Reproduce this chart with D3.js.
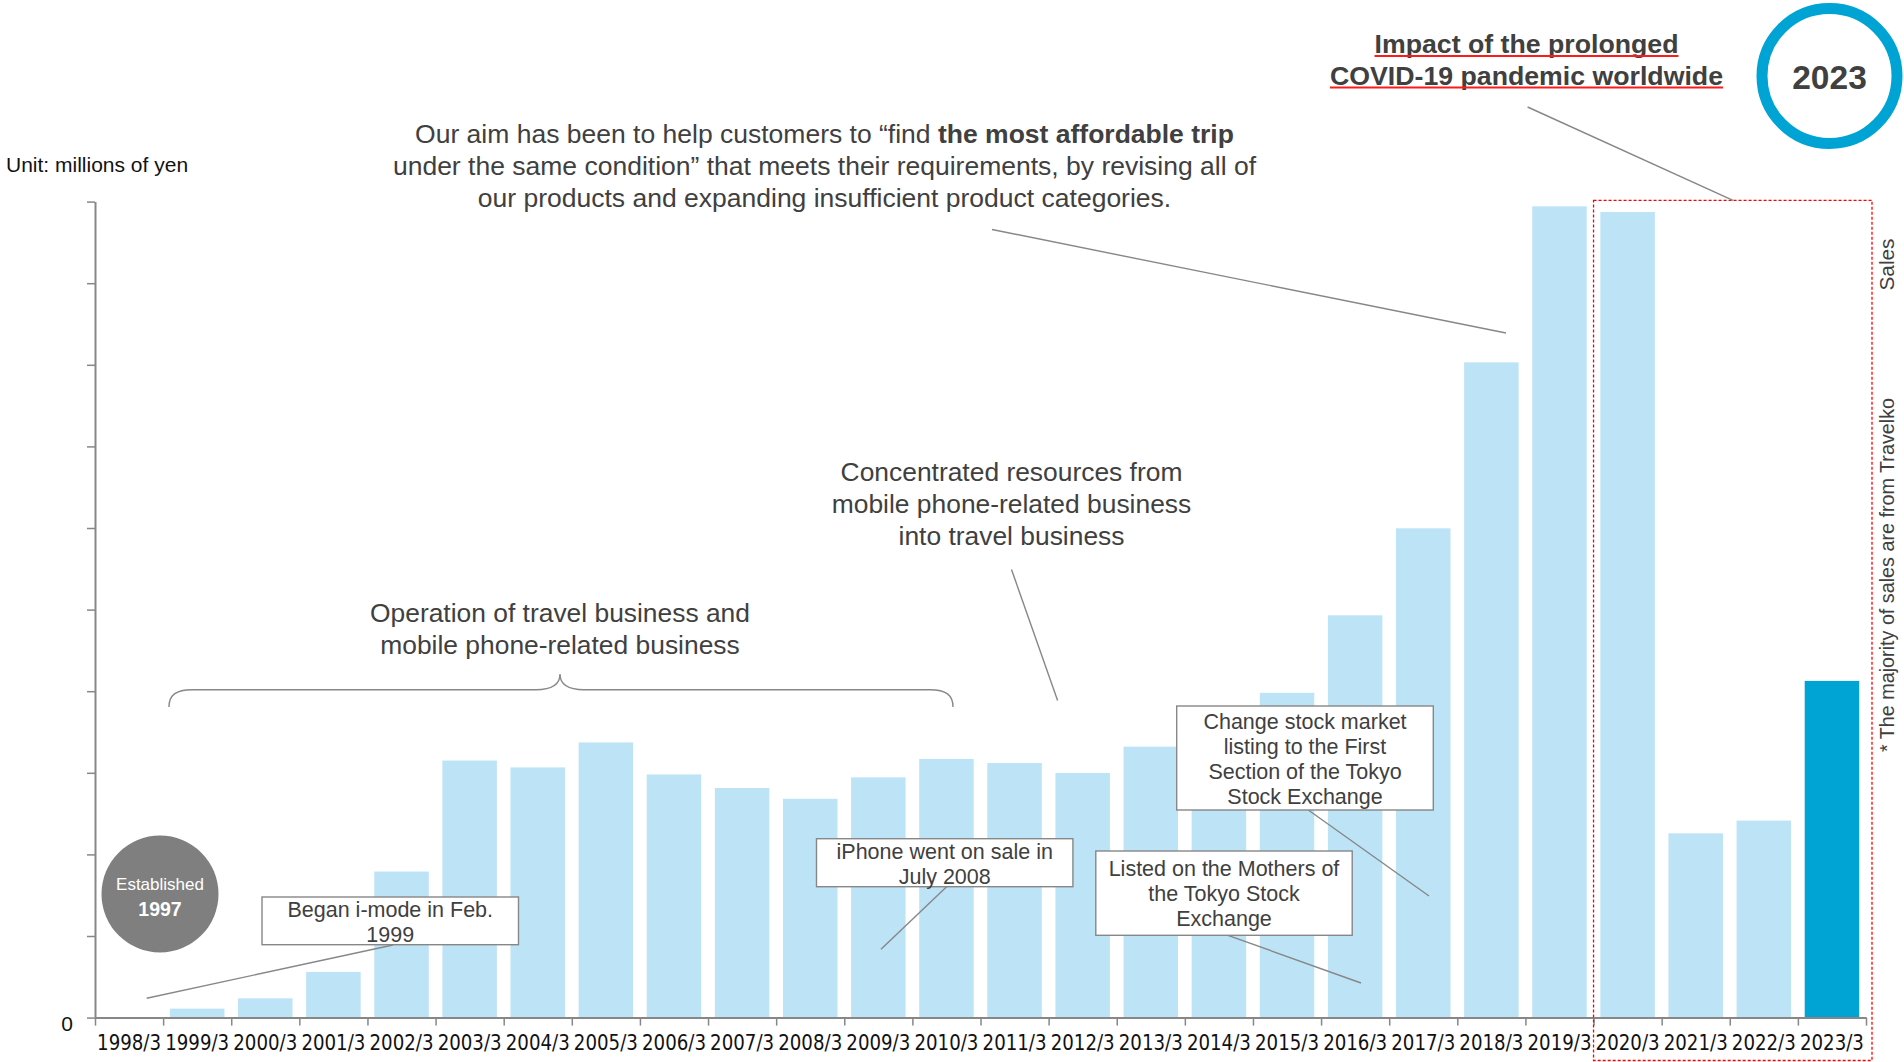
<!DOCTYPE html>
<html>
<head>
<meta charset="utf-8">
<script src="https://cdn.jsdelivr.net/npm/d3@7"></script>
<style>
  html, body { margin: 0; padding: 0; background: #ffffff; }
  svg { display: block; }
  text { font-family: "Liberation Sans", Arial, sans-serif; }
</style>
</head>
<body>
<svg id="chart" width="1904" height="1062"></svg>
<script>
// Fiscal years (ending March) and net sales, millions of yen
const categories = ["1998/3", "1999/3", "2000/3", "2001/3", "2002/3", "2003/3", "2004/3",
  "2005/3", "2006/3", "2007/3", "2008/3", "2009/3", "2010/3", "2011/3", "2012/3",
  "2013/3", "2014/3", "2015/3", "2016/3", "2017/3", "2018/3", "2019/3", "2020/3",
  "2021/3", "2022/3", "2023/3"];
const sales = [0, 55, 118, 280, 895, 1575, 1533, 1686, 1490, 1407, 1341, 1472, 1585,
  1560, 1499, 1660, 1800, 1990, 2465, 2998, 4015, 4971, 4936, 1129, 1207, 2063];
const yTicks = [0, 500, 1000, 1500, 2000, 2500, 3000, 3500, 4000, 4500, 5000];
const yTickLabels = ["0"];
const highlightYear = "2023/3";

const TEXT = "#404040";
const GREY = "#878787";
const BAR = "#bde3f7";
const BAR_HI = "#00a4d4";

const svg = d3.select("#chart");

const x = d3.scaleBand().domain(categories).range([95, 1866]).paddingInner(0.2).paddingOuter(0.1);
const y = d3.scaleLinear().domain([0, 5000]).range([1017.6, 201.6]);
// band boundaries (tick marks sit between the years)
const xb = d3.scaleLinear().domain([0, categories.length]).range([95, 1866]);

// ---- bars
svg.append("g").selectAll("rect").data(categories).join("rect")
  .attr("x", d => x(d))
  .attr("y", (d, i) => y(sales[i]))
  .attr("width", x.bandwidth())
  .attr("height", (d, i) => y(0) - y(sales[i]))
  .attr("fill", d => d === highlightYear ? BAR_HI : BAR);

// ---- y axis
const yAxis = svg.append("g").attr("transform", "translate(95,0)")
  .call(d3.axisLeft(y).tickValues(yTicks).tickSize(8).tickSizeOuter(0).tickPadding(14)
    .tickFormat(d => yTickLabels.includes(String(d)) ? String(d) : ""));
yAxis.select(".domain").attr("stroke", GREY).attr("stroke-width", 2);
yAxis.selectAll(".tick line").attr("stroke", GREY).attr("stroke-width", 1.5);
yAxis.selectAll(".tick text").attr("font-size", 21).attr("fill", "#111").attr("dy", "0.62em")
  .style("font-family", "'Liberation Sans', Arial, sans-serif");

// ---- x axis: boundary ticks
const xTickAxis = svg.append("g").attr("transform", `translate(0,${y(0)})`)
  .call(d3.axisBottom(xb).tickValues(d3.range(0, categories.length + 1)).tickSize(8).tickSizeOuter(0).tickFormat(""));
xTickAxis.select(".domain").attr("stroke", GREY).attr("stroke-width", 2);
xTickAxis.selectAll(".tick line").attr("stroke", GREY).attr("stroke-width", 1.5);

// ---- x axis: year labels centred on bars
const xLabelAxis = svg.append("g").attr("transform", `translate(0,${y(0)})`)
  .call(d3.axisBottom(x).tickSize(0).tickPadding(18));
xLabelAxis.select(".domain").remove();
xLabelAxis.selectAll(".tick text")
  .attr("font-size", 20.5).attr("fill", "#111")
  .style("font-family", "'DejaVu Sans Condensed', 'DejaVu Sans', sans-serif")
  .attr("textLength", 64).attr("lengthAdjust", "spacingAndGlyphs");

// ---- unit label
svg.append("text").attr("x", 6).attr("y", 172).attr("font-size", 21).attr("fill", "#111")
  .text("Unit: millions of yen");

// helpers
function lines(cx, ys, arr, size, opts = {}) {
  const t = svg.append("text").attr("text-anchor", "middle").attr("font-size", size)
    .attr("fill", opts.fill || TEXT).attr("font-weight", opts.weight || "normal");
  arr.forEach((s, i) => {
    t.append("tspan").attr("x", cx).attr("y", ys[i]).attr("dominant-baseline", "central").text(s);
  });
  return t;
}
function leader(x1, y1, x2, y2) {
  svg.append("line").attr("x1", x1).attr("y1", y1).attr("x2", x2).attr("y2", y2)
    .attr("stroke", GREY).attr("stroke-width", 1.4);
}
function callout(x0, y0, w, h, arr, lineYs) {
  svg.append("rect").attr("x", x0).attr("y", y0).attr("width", w).attr("height", h)
    .attr("fill", "#fff").attr("stroke", GREY).attr("stroke-width", 1.4);
  lines(x0 + w / 2, lineYs, arr, 21.5);
}

// ---- dashed frame around the pandemic years
svg.append("rect")
  .attr("x", xb(22)).attr("y", 200.3)
  .attr("width", 1872 - xb(22)).attr("height", 1060.5 - 200.3)
  .attr("fill", "none").attr("stroke", "#ff0000").attr("stroke-width", 1.3)
  .attr("stroke-dasharray", "3,2");

// ---- headline message
const aim = svg.append("text").attr("text-anchor", "middle").attr("font-size", 26.5).attr("fill", TEXT);
const l1 = aim.append("tspan").attr("x", 824.5).attr("y", 133.6).attr("dominant-baseline", "central");
l1.append("tspan").text("Our aim has been to help customers to \u201cfind ");
l1.append("tspan").attr("font-weight", "bold").text("the most affordable trip");
aim.append("tspan").attr("x", 824.5).attr("y", 166).attr("dominant-baseline", "central")
  .text("under the same condition\u201d that meets their requirements, by revising all of");
aim.append("tspan").attr("x", 824.5).attr("y", 198).attr("dominant-baseline", "central")
  .text("our products and expanding insufficient product categories.");
leader(992, 229.5, 1506, 333);

// ---- pandemic heading, underlined in red
const imp = lines(1526.5, [44, 76], ["Impact of the prolonged", "COVID-19 pandemic worldwide"], 26.7, { weight: "bold" });
imp.selectAll("tspan").each(function (d, i) {
  const w = this.getComputedTextLength();
  const yy = [56, 87.5][i];
  svg.append("line").attr("x1", 1526.5 - w / 2).attr("x2", 1526.5 + w / 2)
    .attr("y1", yy).attr("y2", yy).attr("stroke", "#ff1a1a").attr("stroke-width", 2);
});
leader(1527.6, 107, 1733, 200.3);

// ---- 2023 badge
svg.append("circle").attr("cx", 1829.5).attr("cy", 76).attr("r", 67.5)
  .attr("fill", "#fff").attr("stroke", BAR_HI).attr("stroke-width", 11);
svg.append("text").attr("x", 1829.5).attr("y", 77).attr("text-anchor", "middle")
  .attr("dominant-baseline", "central").attr("font-size", 33.5).attr("font-weight", "bold")
  .attr("fill", TEXT).text("2023");

// ---- side notes
svg.append("text").attr("transform", "translate(1887,264.5) rotate(-90)")
  .attr("text-anchor", "middle").attr("dominant-baseline", "central")
  .attr("font-size", 20).attr("fill", TEXT)
  .attr("textLength", 52).attr("lengthAdjust", "spacingAndGlyphs").text("Sales");
svg.append("text").attr("transform", "translate(1887,575) rotate(-90)")
  .attr("text-anchor", "middle").attr("dominant-baseline", "central")
  .attr("font-size", 20).attr("fill", TEXT)
  .attr("textLength", 354).attr("lengthAdjust", "spacingAndGlyphs")
  .text("* The majority of sales are from Travelko");

// ---- business periods
lines(560, [613, 645], ["Operation of travel business and", "mobile phone-related business"], 26.4);
svg.append("path")
  .attr("d", "M169,707 C169,695 176,689.7 192,689.7 L536,689.7 C552,689.7 560,684 560,674 C560,684 568,689.7 584,689.7 L930,689.7 C946,689.7 953,695 953,707")
  .attr("fill", "none").attr("stroke", GREY).attr("stroke-width", 1.4);

lines(1011.5, [472.4, 504, 535.5], ["Concentrated resources from", "mobile phone-related business", "into travel business"], 26.4);
leader(1011.5, 569.5, 1057.6, 700.6);

// ---- founding badge
svg.append("circle").attr("cx", 160).attr("cy", 894).attr("r", 58.5).attr("fill", "#7f7f7f");
svg.append("text").attr("x", 160).attr("y", 884).attr("text-anchor", "middle")
  .attr("dominant-baseline", "central").attr("font-size", 17).attr("fill", "#fff").text("Established");
svg.append("text").attr("x", 160).attr("y", 909).attr("text-anchor", "middle")
  .attr("dominant-baseline", "central").attr("font-size", 19.5).attr("font-weight", "bold")
  .attr("fill", "#fff").text("1997");

// ---- milestone callouts
leader(393, 945, 146.7, 998.3);
callout(262, 897, 256.5, 47.7, ["Began i-mode in Feb.", "1999"], [910, 935]);

leader(946.6, 886.7, 881, 949.3);
callout(816.5, 838.7, 256.4, 48, ["iPhone went on sale in", "July 2008"], [852, 877]);

leader(1227.9, 935.3, 1361, 983);
callout(1095.8, 851, 256.4, 84.3, ["Listed on the Mothers of", "the Tokyo Stock", "Exchange"], [869, 894, 919]);

leader(1308.3, 810, 1429, 896);
callout(1176.7, 706, 256.6, 104, ["Change stock market", "listing to the First", "Section of the Tokyo", "Stock Exchange"], [722, 747, 772, 797]);
</script>
</body>
</html>
